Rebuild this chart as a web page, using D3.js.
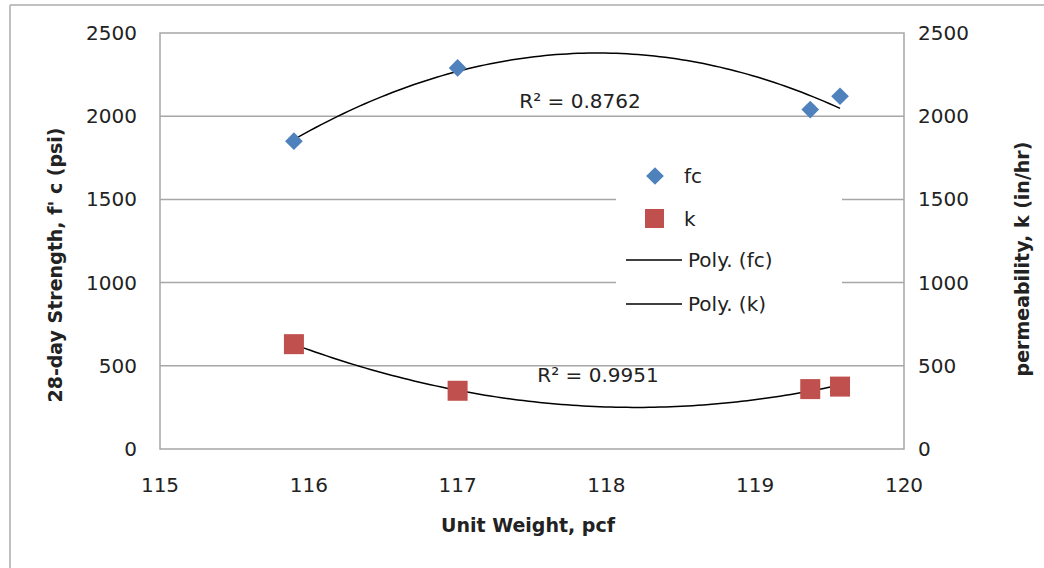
<!DOCTYPE html>
<html>
<head>
<meta charset="utf-8">
<script src="https://cdn.jsdelivr.net/npm/d3@7"></script>
<style>
  body { margin: 0; background: #fff; }
  svg { font-family: "DejaVu Sans", sans-serif; }
</style>
</head>
<body>
<svg width="1044" height="568"></svg>
<script>
// data
var unitWeight = [115.9, 117.0, 119.37, 119.57];
var fcValues = [1850, 2290, 2040, 2120];
var kValues = [630, 350, 360, 375];
var xTicks = [115, 116, 117, 118, 119, 120];
var yTicks = [0, 500, 1000, 1500, 2000, 2500];
var r2Labels = ["R\u00b2 = 0.8762", "R\u00b2 = 0.9951"];

// quadratic least squares, same as a poly(2) trendline
function polyFit(xs, ys) {
  var s = [0, 0, 0, 0, 0], t = [0, 0, 0];
  xs.forEach(function(x, i) {
    var p = 1;
    for (var k = 0; k < 5; k++) { s[k] += p; if (k < 3) t[k] += p * ys[i]; p *= x; }
  });
  var A = [[s[0], s[1], s[2], t[0]], [s[1], s[2], s[3], t[1]], [s[2], s[3], s[4], t[2]]];
  for (var i = 0; i < 3; i++) {
    for (var j = i + 1; j < 3; j++) {
      var f = A[j][i] / A[i][i];
      for (var k = i; k < 4; k++) A[j][k] -= f * A[i][k];
    }
  }
  var c = [0, 0, 0];
  for (var i = 2; i >= 0; i--) {
    var v = A[i][3];
    for (var k = i + 1; k < 3; k++) v -= A[i][k] * c[k];
    c[i] = v / A[i][i];
  }
  return function(x) { return c[0] + c[1] * x + c[2] * x * x; };
}

var svg = d3.select("svg");
var plotL = 160, plotR = 904, plotT = 33, plotB = 449;

var x = d3.scaleLinear().domain([115, 120]).range([plotL, plotR]);
var y = d3.scaleLinear().domain([0, 2500]).range([plotB, plotT]);
var y2 = d3.scaleLinear().domain([0, 2500]).range([plotB, plotT]);

// outer chart frame
svg.append("line").attr("x1", 10).attr("x2", 1044).attr("y1", 5).attr("y2", 5)
  .attr("stroke", "#c0c0c0").attr("stroke-width", 2);
svg.append("line").attr("x1", 10).attr("x2", 10).attr("y1", 5).attr("y2", 568)
  .attr("stroke", "#c0c0c0").attr("stroke-width", 2);

// gridlines
svg.append("g").selectAll("line").data(yTicks.slice(1, -1)).enter().append("line")
  .attr("x1", plotL).attr("x2", plotR)
  .attr("y1", function(d) { return y(d); }).attr("y2", function(d) { return y(d); })
  .attr("stroke", "#a6a6a6").attr("stroke-width", 1.5);

svg.append("rect").attr("x", plotL).attr("y", plotT)
  .attr("width", plotR - plotL).attr("height", plotB - plotT)
  .attr("fill", "none").attr("stroke", "#a6a6a6").attr("stroke-width", 1.5);

// tick labels
svg.append("g").selectAll("text").data(yTicks).enter().append("text")
  .attr("x", 137).attr("y", function(d) { return y(d) + 7; })
  .attr("text-anchor", "end").attr("font-size", 20).attr("fill", "#222")
  .text(function(d) { return d; });

svg.append("g").selectAll("text").data(yTicks).enter().append("text")
  .attr("x", 918).attr("y", function(d) { return y2(d) + 7; })
  .attr("text-anchor", "start").attr("font-size", 20).attr("fill", "#222")
  .text(function(d) { return d; });

svg.append("g").selectAll("text").data(xTicks).enter().append("text")
  .attr("x", function(d) { return x(d); }).attr("y", 492)
  .attr("text-anchor", "middle").attr("font-size", 20).attr("fill", "#222")
  .text(function(d) { return d; });

// axis titles
svg.append("text").attr("x", 528).attr("y", 532).attr("text-anchor", "middle")
  .attr("font-size", 19).attr("font-weight", "bold").attr("fill", "#222")
  .text("Unit Weight, pcf");
svg.append("text").attr("transform", "translate(62,265) rotate(-90)")
  .attr("text-anchor", "middle").attr("font-size", 19).attr("font-weight", "bold").attr("fill", "#222")
  .text("28-day Strength, f' c (psi)");
svg.append("text").attr("transform", "translate(1029,259) rotate(-90)")
  .attr("text-anchor", "middle").attr("font-size", 19).attr("font-weight", "bold").attr("fill", "#222")
  .text("permeability, k (in/hr)");

// legend background hides gridlines
svg.append("rect").attr("x", 616).attr("y", 152).attr("width", 226).attr("height", 170).attr("fill", "#fff");

// trendlines
var fcFit = polyFit(unitWeight, fcValues);
var kFit = polyFit(unitWeight, kValues);
var xs = d3.range(0, 101).map(function(i) {
  return unitWeight[0] + (unitWeight[3] - unitWeight[0]) * i / 100;
});
var line = function(f, sc) {
  return d3.line().x(function(d) { return x(d); }).y(function(d) { return sc(f(d)); });
};
svg.append("path").datum(xs).attr("d", line(fcFit, y))
  .attr("fill", "none").attr("stroke", "#000").attr("stroke-width", 1.5);
svg.append("path").datum(xs).attr("d", line(kFit, y2))
  .attr("fill", "none").attr("stroke", "#000").attr("stroke-width", 1.5);

// points
svg.append("g").selectAll("path").data(unitWeight).enter().append("path")
  .attr("d", d3.symbol().type(d3.symbolDiamond2).size(200))
  .attr("transform", function(d, i) { return "translate(" + x(d) + "," + y(fcValues[i]) + ")"; })
  .attr("fill", "#4f81bd");
svg.append("g").selectAll("rect").data(unitWeight).enter().append("rect")
  .attr("x", function(d) { return x(d) - 10; })
  .attr("y", function(d, i) { return y2(kValues[i]) - 10; })
  .attr("width", 20).attr("height", 20).attr("fill", "#c0504d");

// R² labels
svg.append("text").attr("x", 580).attr("y", 108).attr("text-anchor", "middle")
  .attr("font-size", 20).attr("fill", "#222").text(r2Labels[0]);
svg.append("text").attr("x", 598).attr("y", 382).attr("text-anchor", "middle")
  .attr("font-size", 20).attr("fill", "#222").text(r2Labels[1]);

// legend
var lg = svg.append("g").attr("font-size", 20).attr("fill", "#222");
lg.append("path").attr("d", d3.symbol().type(d3.symbolDiamond2).size(200))
  .attr("transform", "translate(655,176)").attr("fill", "#4f81bd");
lg.append("text").attr("x", 684).attr("y", 183).text("fc");
lg.append("rect").attr("x", 645).attr("y", 209).attr("width", 19).attr("height", 19).attr("fill", "#c0504d");
lg.append("text").attr("x", 684).attr("y", 226).text("k");
lg.append("line").attr("x1", 626).attr("x2", 682).attr("y1", 260).attr("y2", 260).attr("stroke", "#000").attr("stroke-width", 1.5);
lg.append("text").attr("x", 688).attr("y", 267).text("Poly. (fc)");
lg.append("line").attr("x1", 626).attr("x2", 682).attr("y1", 304).attr("y2", 304).attr("stroke", "#000").attr("stroke-width", 1.5);
lg.append("text").attr("x", 688).attr("y", 311).text("Poly. (k)");
</script>
</body>
</html>
